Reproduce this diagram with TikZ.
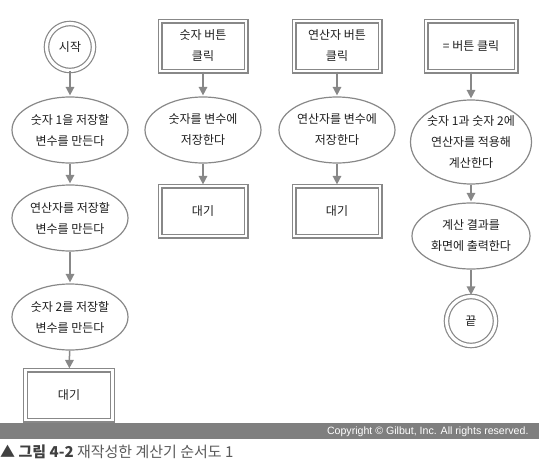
\documentclass[tikz,border=0pt]{standalone}
\usepackage{fontspec}
\setmainfont{Noto Sans CJK KR}
\newfontfamily\copyfont{Liberation Sans}
\usetikzlibrary{shapes.geometric,arrows.meta}
\definecolor{linegray}{HTML}{888888}
\definecolor{inkgray}{HTML}{1E1E1E}
\definecolor{bargray}{HTML}{7F7F7F}
\definecolor{capgray}{HTML}{5A5A5A}

\begin{document}
\begin{tikzpicture}[x=1pt,y=-1pt,
  every node/.style={text=inkgray,font=\fontsize{12}{21}\selectfont,align=center},
  terminal/.style={circle,draw=linegray,line width=1.2pt,double=white,double distance=3.2pt,minimum size=47pt,inner sep=0pt},
  action/.style={ellipse,draw=linegray,line width=1.2pt,minimum width=116pt,minimum height=66pt,inner sep=-2pt},
  event/.style={rectangle,draw=linegray,line width=1.2pt,double=white,double distance=2.6pt,minimum width=86pt,minimum height=50pt,inner sep=0pt},
  flow/.style={draw=linegray,line width=1.5pt,shorten >=1pt,-{Triangle[length=8.5pt,width=8.5pt]}}]
\useasboundingbox (0,0) rectangle (551,463);
% Column 1
\node[terminal] (start) at (70,47) {시작};
\node[action] (num1) at (70,130) {숫자 1을 저장할\\변수를 만든다};
\node[action] (oper) at (70,218) {연산자를 저장할\\변수를 만든다};
\node[action] (num2) at (70,317) {숫자 2를 저장할\\변수를 만든다};
\node[event,minimum width=87pt] (wait1) at (69,395) {대기};
\draw[flow] (start) -- (num1);
\draw[flow] (num1) -- (oper);
\draw[flow] (oper) -- (num2);
\draw[flow] (num2) -- (wait1);
% Column 2
\node[event] (numbtn) at (203,46) {숫자 버튼\\클릭};
\node[action] (savenum) at (203,130) {숫자를 변수에\\저장한다};
\node[event] (wait2) at (203,211) {대기};
\draw[flow] (numbtn) -- (savenum);
\draw[flow] (savenum) -- (wait2);
% Column 3
\node[event] (opbtn) at (337,46) {연산자 버튼\\클릭};
\node[action] (saveop) at (337,130) {연산자를 변수에\\저장한다};
\node[event] (wait3) at (337,211) {대기};
\draw[flow] (opbtn) -- (saveop);
\draw[flow] (saveop) -- (wait3);
% Column 4
\node[event,minimum width=90pt] (eqbtn) at (471,46) {= 버튼 클릭};
\node[action,minimum width=121pt,minimum height=84pt] (calc) at (471,142) {숫자 1과 숫자 2에\\연산자를 적용해\\계산한다};
\node[action,minimum width=118pt] (show) at (471,236) {계산 결과를\\화면에 출력한다};
\node[terminal,minimum size=49pt] (finish) at (471,321) {끝};
\draw[flow] (eqbtn) -- (calc);
\draw[flow] (calc) -- (show);
\draw[flow] (show) -- (finish);
% Caption
\fill[bargray] (0,423) rectangle (539,439);
\node[anchor=east,text=white,font=\copyfont\fontsize{10.6}{12}\selectfont] (copy) at (532,431.5) {Copyright © Gilbut, Inc. All rights reserved.};
\node[anchor=west,inner sep=0pt,text=capgray,font=\fontsize{15}{17}\selectfont] (cap) at (0,452) {{\bfseries\color{inkgray!85}▲ 그림 4-2} 재작성한 계산기 순서도 1};
\end{tikzpicture}
\end{document}
